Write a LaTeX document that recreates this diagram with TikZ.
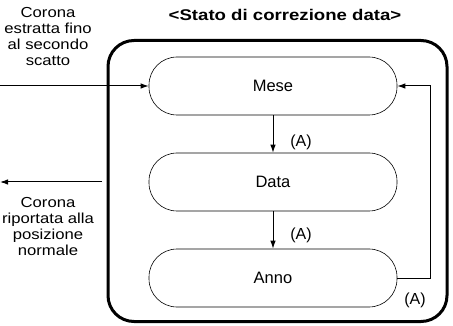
\documentclass[tikz,border=0pt]{standalone}
\usepackage{fontspec}
\setmainfont{Liberation Sans}
\newfontfamily\sidefont[FakeStretch=1.15]{Liberation Sans}
\newfontfamily\titlefont[FakeStretch=1.2]{Liberation Sans Bold}
\usetikzlibrary{arrows.meta}
\begin{document}
\begin{tikzpicture}[x=1pt,y=-1pt,
  pill/.style={draw,line width=0.6pt,rounded corners=28pt,minimum width=248pt,minimum height=58pt,font=\fontsize{16.5}{18}\selectfont},
  conn/.style={line width=1pt,-{Latex[length=8pt,width=5.5pt]}},
  lbl/.style={font=\fontsize{16}{18}\selectfont},
  side/.style={align=center,font=\sidefont\fontsize{14.5}{16}\selectfont}]
\useasboundingbox (0,0) rectangle (453,326);
\node[draw,line width=3pt,rounded corners=26pt,minimum width=339pt,minimum height=281pt] (box) at (277.5,181) {};
\node[font=\titlefont\fontsize{15.5}{17}\selectfont] (title) at (285,15) {<Stato di correzione data>};
\node[pill] (mese) at (273,86) {Mese};
\node[pill] (data) at (273,182) {Data};
\node[pill] (anno) at (273,278) {Anno};
\node[side] (in) at (48,37) {Corona\\estratta fino\\al secondo\\scatto};
\node[side] (out) at (48,227) {Corona\\riportata alla\\posizione\\normale};
\coordinate (inS) at (0,86);
\coordinate (outE) at (0,182);
\coordinate (outS) at (102,182);
\coordinate (rt) at (430,0);
\draw[conn] (inS) -- (mese.west);
\draw[conn] (outS) -- (outE);
\draw[conn] (mese.south) -- (data.north);
\draw[conn] (data.south) -- (anno.north);
\draw[conn] (anno.east) -- (anno.east -| rt) -- (mese.east -| rt) -- (mese.east);
\node[lbl] (a1) at (301,142) {(A)};
\node[lbl] (a2) at (301,235) {(A)};
\node[lbl] (a3) at (415,300) {(A)};
\end{tikzpicture}
\end{document}
